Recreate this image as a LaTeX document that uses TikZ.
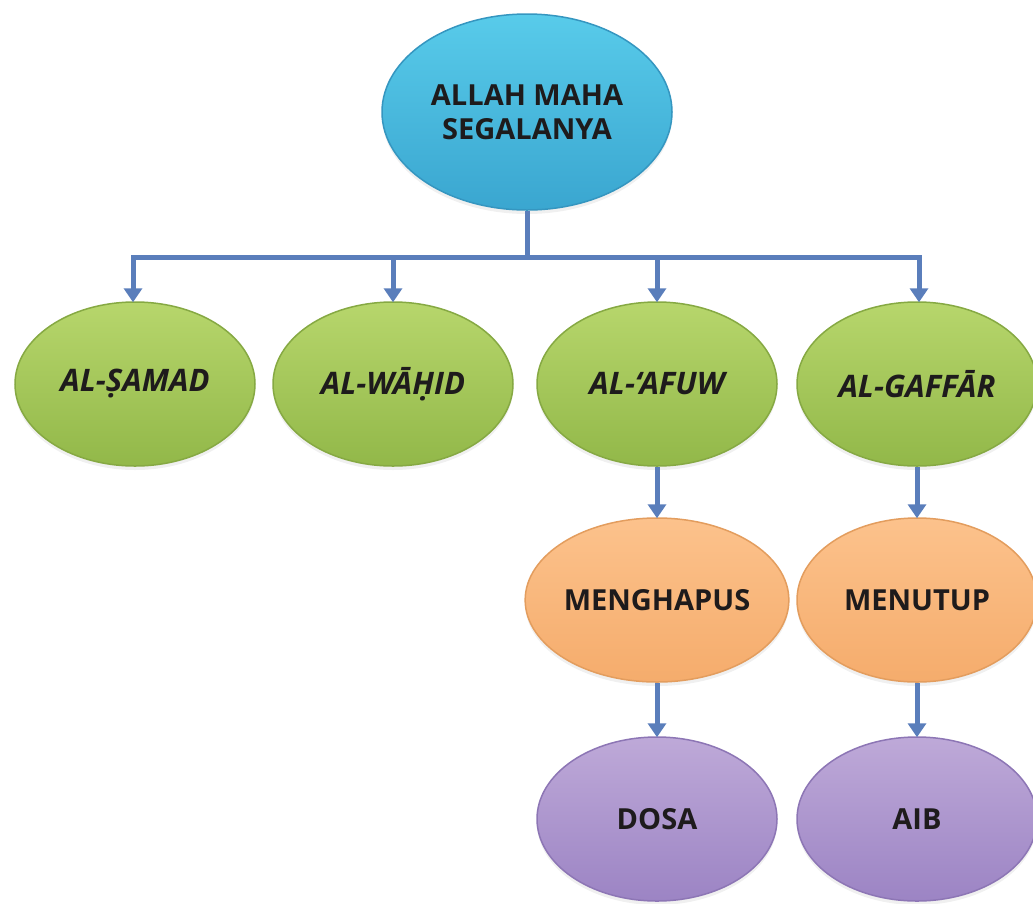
\documentclass[tikz,border=0pt]{standalone}
\usepackage{fontspec}
\setmainfont{Open Sans}
\usetikzlibrary{shapes.geometric,arrows.meta,shadows}
\definecolor{blueT}{HTML}{58CBEA}
\definecolor{blueB}{HTML}{3AA6D0}
\definecolor{blueE}{HTML}{3596C0}
\definecolor{greenT}{HTML}{B7D66C}
\definecolor{greenB}{HTML}{92B849}
\definecolor{greenE}{HTML}{86A943}
\definecolor{orangeT}{HTML}{FCC28C}
\definecolor{orangeB}{HTML}{F5AC6C}
\definecolor{orangeE}{HTML}{E39D5E}
\definecolor{purpleT}{HTML}{BEA9D8}
\definecolor{purpleB}{HTML}{9C84C4}
\definecolor{purpleE}{HTML}{8D76B5}
\definecolor{linkC}{HTML}{5A7EBB}
\definecolor{txt}{HTML}{1E1B1C}
\tikzset{
  oval/.style={ellipse, inner sep=0pt, minimum width=240pt, minimum height=164pt,
    line width=1.5pt, text=txt, font=\fontsize{29}{34}\selectfont\bfseries, align=center,
    drop shadow={opacity=0.12, shadow xshift=0pt, shadow yshift=-4pt}},
  topoval/.style={oval, minimum width=290pt, minimum height=196pt,
    top color=blueT, bottom color=blueB, draw=blueE},
  greenoval/.style={oval, top color=greenT, bottom color=greenB, draw=greenE,
    font=\fontsize{31}{36}\selectfont\bfseries\itshape},
  orangeoval/.style={oval, top color=orangeT, bottom color=orangeB, draw=orangeE},
  purpleoval/.style={oval, top color=purpleT, bottom color=purpleB, draw=purpleE},
  link/.style={draw=linkC, line width=5pt},
  arrowlink/.style={link, -{Triangle[width=18pt,length=14pt]}, shorten >=-1pt}
}
\begin{document}
\begin{tikzpicture}[x=1pt,y=-1pt]
\useasboundingbox (0,0) rectangle (1033,903);
\node[topoval] (top) at (527,112) {ALLAH MAHA\\SEGALANYA};
\node[greenoval] (g1) at (135,384) {AL-S\char"0323 AMAD};
\node[greenoval] (g2) at (393,384) {AL-WĀH\char"0323 ID};
\node[greenoval] (g3) at (657,384) {AL-‘AFUW};
\node[greenoval] (g4) at (917,384) {AL-GAFFĀR};
\node[orangeoval] (o1) at (657,600) {MENGHAPUS};
\node[orangeoval] (o2) at (917,600) {MENUTUP};
\node[purpleoval] (p1) at (657,819) {DOSA};
\node[purpleoval] (p2) at (917,819) {AIB};
\coordinate (bus) at (527,257);
\coordinate (busL) at (133,257);
\coordinate (busR) at (919,257);
\draw[link] (top.south) -- (bus);
\draw[link, line cap=rect] (busL) -- (busR);
\draw[arrowlink] (busL) -- (busL |- g1.north);
\draw[arrowlink] (g2 |- bus) -- (g2.north);
\draw[arrowlink] (g3 |- bus) -- (g3.north);
\draw[arrowlink] (busR) -- (busR |- g4.north);
\draw[arrowlink] (g3.south) -- (o1.north);
\draw[arrowlink] (g4.south) -- (o2.north);
\draw[arrowlink] (o1.south) -- (p1.north);
\draw[arrowlink] (o2.south) -- (p2.north);
\end{tikzpicture}
\end{document}
